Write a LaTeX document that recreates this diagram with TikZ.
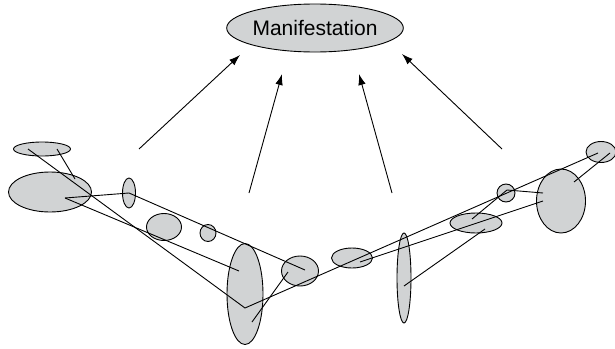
\documentclass[tikz,border=0pt]{standalone}
\usepackage{fontspec}
\setmainfont{Liberation Sans}
\usetikzlibrary{arrows.meta,shapes.geometric}
\definecolor{blobgray}{RGB}{209,211,212}

\begin{document}
\begin{tikzpicture}[
        x=1pt, y=-1pt,
        line width=0.9pt,
        blob/.style = {
            ellipse,
            draw,
            fill=blobgray,
            inner sep=0pt},
        cause/.style = {-{Latex[length=11pt,width=7.5pt]}}
    ]
    \useasboundingbox (0,0) rectangle (615,348);

    % the manifestation on top
    \node[blob, minimum width=170pt, minimum height=48pt,
        font=\fontsize{21}{24}\selectfont] (M) at (315,28) {Manifestation};

    % the blobs of the two chains
    \node[blob, minimum width=57pt, minimum height=14pt] (E1) at (42,149) {};
    \node[blob, minimum width=83pt, minimum height=40pt] (E2) at (50,192) {};
    \node[blob, minimum width=13pt, minimum height=30pt] (E3) at (129,193) {};
    \node[blob, minimum width=35pt, minimum height=27pt] (E4) at (164,227) {};
    \node[blob, minimum width=16pt, minimum height=17pt] (E5) at (208,233) {};
    \node[blob, minimum width=36pt, minimum height=101pt] (E6) at (245,294) {};
    \node[blob, minimum width=37pt, minimum height=30pt] (E7) at (300,271) {};
    \node[blob, minimum width=41pt, minimum height=20pt] (E8) at (352,258) {};
    \node[blob, minimum width=14pt, minimum height=90pt] (E9) at (404,278) {};
    \node[blob, minimum width=52pt, minimum height=20pt] (E10) at (476,223) {};
    \node[blob, minimum width=18pt, minimum height=18pt] (E11) at (506,193) {};
    \node[blob, minimum width=49pt, minimum height=64pt] (E12) at (561,201) {};
    \node[blob, minimum width=30pt, minimum height=21pt] (E13) at (601,152) {};

    % ends of the links
    \coordinate (P1) at (28,149);
    \coordinate (P2) at (57,149);
    \coordinate (P3) at (75,179);
    \coordinate (P4) at (65,198);
    \coordinate (P5) at (129,193);
    \coordinate (P6) at (239,271);
    \coordinate (V) at (245,308);
    \coordinate (P7) at (252,322);
    \coordinate (P8) at (305,270);
    \coordinate (P9) at (288,272);
    \coordinate (P10) at (598,153);
    \coordinate (P11) at (360,262);
    \coordinate (P12) at (543,201);
    \coordinate (P13) at (404,286);
    \coordinate (P14) at (485,229);
    \coordinate (P15) at (472,219);
    \coordinate (P16) at (507,190);
    \coordinate (P17) at (543,193);
    \coordinate (P18) at (574,182);
    \coordinate (P19) at (610,153);

    \draw (P1) -- (V) -- (P10);
    \draw (P2) -- (P3);
    \draw (P4) -- (P5) -- (P8);
    \draw (P4) -- (P6);
    \draw (P7) -- (P9);
    \draw (P11) -- (P12);
    \draw (P13) -- (P14);
    \draw (P15) -- (P16) -- (P17);
    \draw (P18) -- (P19);

    % arrows up to the manifestation
    \coordinate (A1) at (139,149);
    \coordinate (A2) at (249,193);
    \coordinate (A3) at (392,193);
    \coordinate (A4) at (502,149);
    \coordinate (T1) at (240,55);
    \coordinate (T2) at (282,74);
    \coordinate (T3) at (359,74);
    \coordinate (T4) at (402,54);
    \draw[cause] (A1) -- (T1);
    \draw[cause] (A2) -- (T2);
    \draw[cause] (A3) -- (T3);
    \draw[cause] (A4) -- (T4);
\end{tikzpicture}
\end{document}
